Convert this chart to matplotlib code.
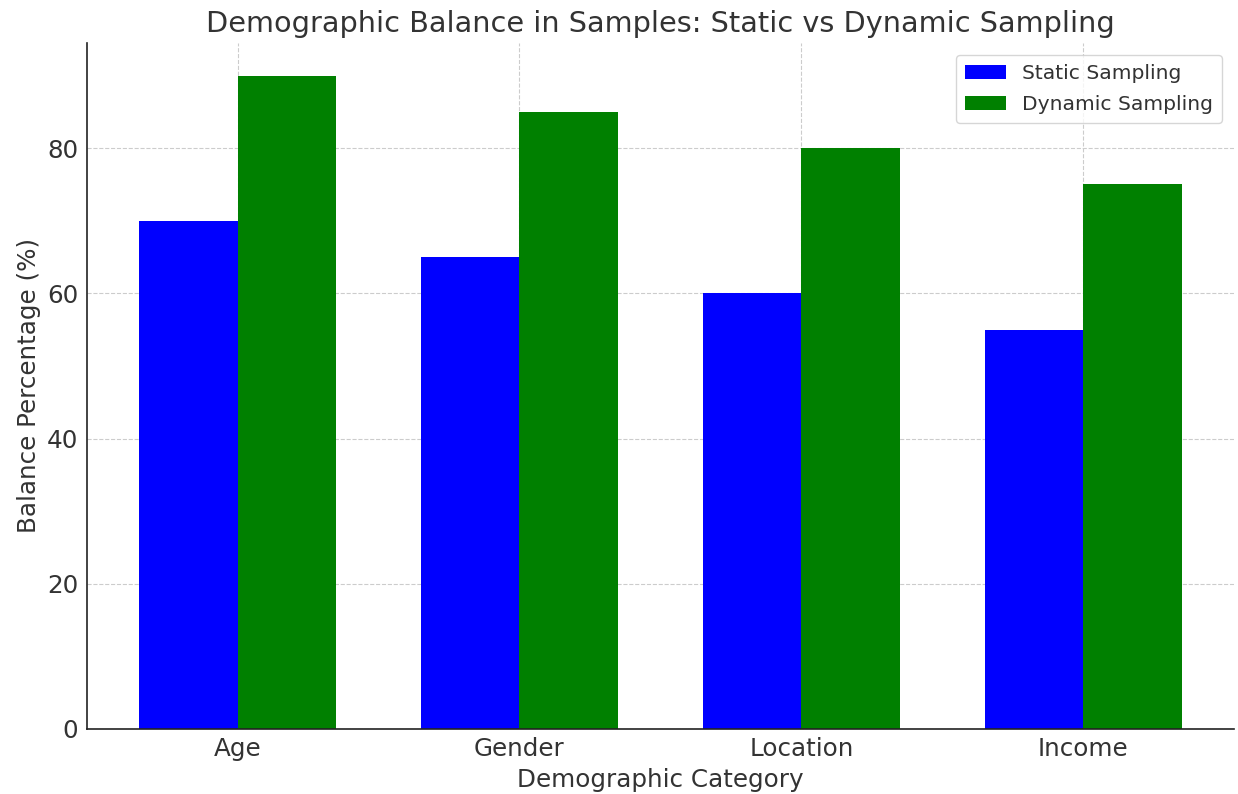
import matplotlib.pyplot as plt
import numpy as np

# Balance percentages per demographic category
categories = ['Age', 'Gender', 'Location', 'Income']
static_vals = [70, 65, 60, 55]
dynamic_vals = [90, 85, 80, 75]

text_color = '#333333'
plt.rcParams['text.color'] = text_color
plt.rcParams['axes.labelcolor'] = text_color
plt.rcParams['xtick.color'] = text_color
plt.rcParams['ytick.color'] = text_color

fig, ax = plt.subplots(figsize=(12.38, 7.94), dpi=100)
fig.subplots_adjust(left=0.070, right=0.997, top=0.946, bottom=0.082)

x = np.arange(len(categories))
width = 0.35

ax.bar(x - width / 2, static_vals, width, color='blue', label='Static Sampling', zorder=2)
ax.bar(x + width / 2, dynamic_vals, width, color='green', label='Dynamic Sampling', zorder=2)

ax.set_title('Demographic Balance in Samples: Static vs Dynamic Sampling',
             fontsize=20.7, color=text_color, pad=8)
ax.set_xlabel('Demographic Category', fontsize=17.7, labelpad=5)
ax.set_ylabel('Balance Percentage (%)', fontsize=17.7, labelpad=4)
ax.set_xticks(x)
ax.set_xticklabels(categories)
ax.tick_params(axis='both', labelsize=17.7, length=0, pad=6)

ax.grid(True, linestyle='--', color='#cccccc', linewidth=0.8, zorder=0)
ax.set_axisbelow(True)
for side in ['top', 'right']:
    ax.spines[side].set_visible(False)
for side in ['left', 'bottom']:
    ax.spines[side].set_color('#222222')
    ax.spines[side].set_linewidth(1.2)

ax.legend(loc='upper right', fontsize=14.6, labelspacing=0.6, borderpad=0.45,
          borderaxespad=0.6)

plt.savefig('out.png')
